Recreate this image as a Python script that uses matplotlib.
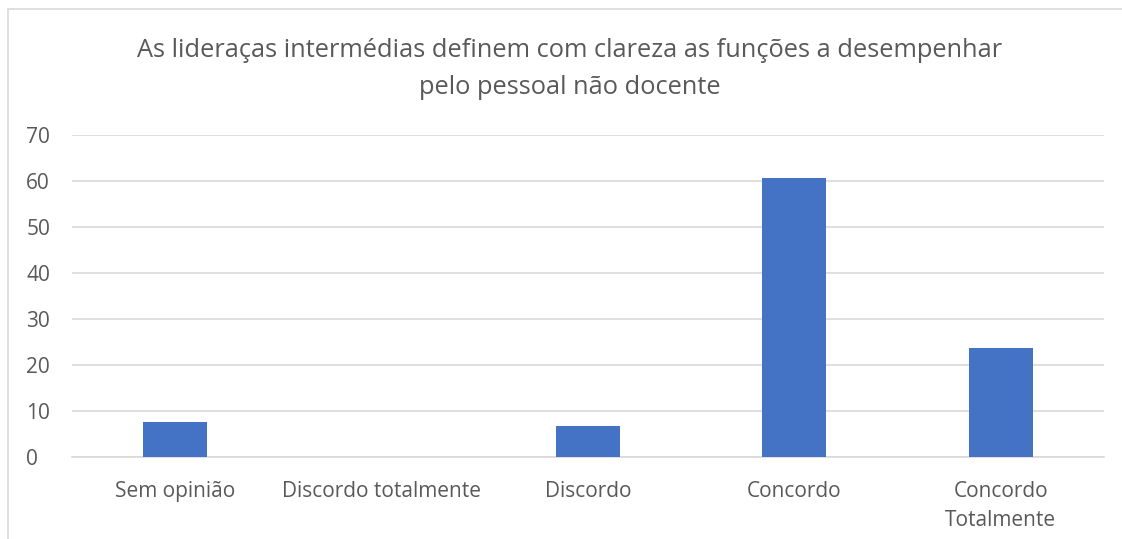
import matplotlib.pyplot as plt
from matplotlib.patches import Rectangle

# dados
categorias = ["Sem opinião", "Discordo totalmente", "Discordo", "Concordo", "Concordo\nTotalmente"]
valores = [7.7, 0, 6.8, 60.6, 23.6]
marcas_y = [0, 10, 20, 30, 40, 50, 60, 70]
titulo = "As lideraças intermédias definem com clareza as funções a desempenhar\npelo pessoal não docente"

cor_barra = "#4472C4"
cor_texto = "#595959"
cor_grelha = "#D9D9D9"

plt.rcParams['font.family'] = ['Open Sans', 'DejaVu Sans']

fig = plt.figure(figsize=(11.22, 5.39), dpi=100)
ax = fig.add_axes([72 / 1122, 82 / 539, (1104 - 72) / 1122, (457 - 135) / 539])

x = range(len(categorias))
ax.bar(x, valores, width=0.31, color=cor_barra, zorder=3)

ax.set_xlim(-0.5, len(categorias) - 0.5)
ax.set_ylim(0, 70)
ax.set_yticks(marcas_y)
ax.set_xticks(list(x))
ax.set_xticklabels(categorias, linespacing=1.55)
ax.grid(axis='y', color=cor_grelha, linewidth=1.2, zorder=0)
for lado in ['top', 'right', 'left']:
    ax.spines[lado].set_visible(False)
ax.spines['bottom'].set_color(cor_grelha)
ax.spines['bottom'].set_linewidth(1.2)
ax.tick_params(axis='both', length=0, colors=cor_texto, labelsize=15)
ax.tick_params(axis='x', pad=17)
for t in ax.get_yticklabels():
    t.set_horizontalalignment('left')
ax.yaxis.set_tick_params(pad=33)

fig.text(570 / 1122, 1 - 69 / 539, titulo, ha='center', va='center',
         fontsize=18.3, color=cor_texto, linespacing=1.65)

# moldura do gráfico
fig.patches.append(Rectangle((8 / 1122, -0.05), 1.1, 1 - 9 / 539 + 0.05,
                             transform=fig.transFigure, fill=False,
                             edgecolor=cor_grelha, linewidth=1.2))

fig.savefig("out.png", dpi=100)
